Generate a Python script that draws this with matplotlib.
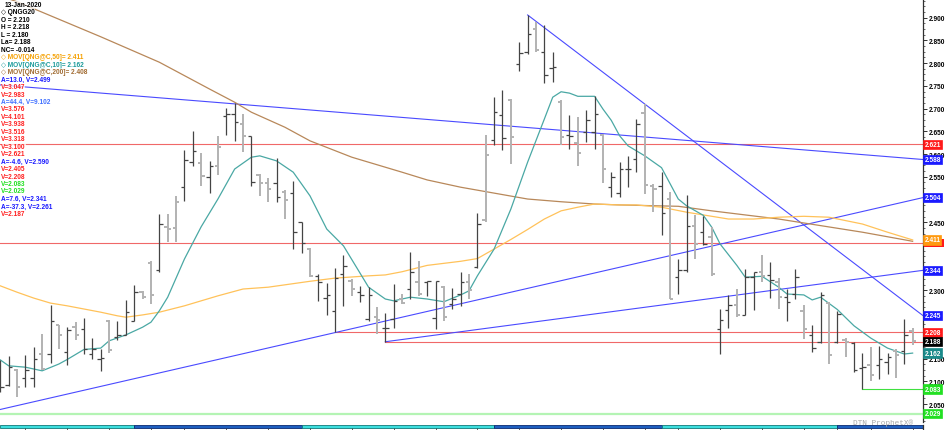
import matplotlib
matplotlib.use('Agg')
import matplotlib.pyplot as plt
import matplotlib.transforms as mtransforms
from matplotlib.ticker import MultipleLocator, FixedLocator
from matplotlib.patches import Rectangle
import numpy as np

# ---------------- data ----------------
opens = [2.135, 2.092, 2.124, 2.107, 2.107, 2.159, 2.160, 2.223, 2.164, 2.219,
         2.215, 2.160, 2.150, 2.233, 2.197, 2.202, 2.233, 2.297, 2.360, 2.345,
         2.440, 2.437, 2.527, 2.582, 2.580, 2.549, 2.574, 2.683, 2.688, 2.666,
         2.640, 2.553, 2.537, 2.536, 2.516, 2.514, 2.450, 2.391, 2.331, 2.283,
         2.255, 2.336, 2.321, 2.296, 2.236, 2.241, 2.217, 2.237, 2.281, 2.303,
         2.318, 2.319, 2.239, 2.307, 2.270, 2.292, 2.318, 2.351, 2.454, 2.630,
         2.686, 2.718, 2.798, 2.824, 2.875, 2.824, 2.790, 2.715, 2.641, 2.624,
         2.648, 2.648, 2.642, 2.527, 2.514, 2.566, 2.588, 2.690, 2.530, 2.529,
         2.501, 2.329, 2.344, 2.442, 2.428, 2.417, 2.215, 2.256, 2.267, 2.246,
         2.329, 2.341, 2.333, 2.318, 2.285, 2.292, 2.255, 2.202, 2.186, 2.272,
         2.187, 2.190, 2.184, 2.129, 2.135, 2.135, 2.143, 2.167, 2.167, 2.210]
highs = [2.146, 2.155, 2.127, 2.157, 2.175, 2.203, 2.268, 2.224, 2.220, 2.231,
         2.239, 2.195, 2.171, 2.235, 2.233, 2.278, 2.311, 2.299, 2.365, 2.468,
         2.468, 2.507, 2.609, 2.650, 2.602, 2.585, 2.640, 2.701, 2.712, 2.688,
         2.640, 2.556, 2.547, 2.591, 2.521, 2.541, 2.451, 2.393, 2.336, 2.316,
         2.349, 2.378, 2.325, 2.310, 2.307, 2.263, 2.250, 2.314, 2.292, 2.384,
         2.365, 2.321, 2.321, 2.310, 2.305, 2.341, 2.336, 2.470, 2.642, 2.725,
         2.740, 2.720, 2.846, 2.906, 2.891, 2.884, 2.824, 2.718, 2.685, 2.681,
         2.696, 2.727, 2.644, 2.561, 2.582, 2.596, 2.677, 2.710, 2.534, 2.560,
         2.516, 2.369, 2.510, 2.465, 2.463, 2.439, 2.259, 2.290, 2.303, 2.347,
         2.341, 2.378, 2.362, 2.327, 2.303, 2.346, 2.268, 2.224, 2.296, 2.274,
         2.255, 2.195, 2.186, 2.162, 2.175, 2.177, 2.162, 2.171, 2.236, 2.218]
lows = [2.076, 2.089, 2.065, 2.087, 2.087, 2.125, 2.140, 2.171, 2.135, 2.190,
        2.160, 2.149, 2.122, 2.162, 2.190, 2.201, 2.233, 2.281, 2.270, 2.341,
        2.406, 2.406, 2.497, 2.573, 2.530, 2.514, 2.554, 2.642, 2.629, 2.604,
        2.530, 2.507, 2.495, 2.495, 2.457, 2.391, 2.382, 2.329, 2.277, 2.246,
        2.208, 2.265, 2.288, 2.274, 2.233, 2.204, 2.187, 2.217, 2.270, 2.281,
        2.288, 2.288, 2.216, 2.233, 2.259, 2.266, 2.281, 2.349, 2.451, 2.619,
        2.608, 2.578, 2.783, 2.820, 2.824, 2.756, 2.758, 2.620, 2.610, 2.573,
        2.627, 2.610, 2.536, 2.505, 2.505, 2.527, 2.560, 2.512, 2.472, 2.422,
        2.280, 2.292, 2.341, 2.369, 2.399, 2.331, 2.160, 2.217, 2.241, 2.245,
        2.256, 2.318, 2.283, 2.259, 2.233, 2.280, 2.193, 2.164, 2.184, 2.138,
        2.184, 2.153, 2.120, 2.083, 2.101, 2.104, 2.116, 2.107, 2.138, 2.180]
closes = [2.087, 2.131, 2.088, 2.124, 2.149, 2.127, 2.232, 2.201, 2.212, 2.201,
          2.170, 2.171, 2.152, 2.168, 2.201, 2.253, 2.297, 2.285, 2.290, 2.446,
          2.435, 2.495, 2.587, 2.607, 2.552, 2.574, 2.615, 2.687, 2.670, 2.639,
          2.538, 2.537, 2.523, 2.505, 2.499, 2.429, 2.404, 2.332, 2.319, 2.289,
          2.327, 2.353, 2.302, 2.290, 2.289, 2.234, 2.217, 2.277, 2.272, 2.341,
          2.292, 2.320, 2.321, 2.241, 2.281, 2.318, 2.300, 2.446, 2.598, 2.692,
          2.635, 2.637, 2.822, 2.864, 2.828, 2.774, 2.791, 2.638, 2.640, 2.602,
          2.674, 2.688, 2.567, 2.549, 2.567, 2.567, 2.666, 2.532, 2.523, 2.470,
          2.281, 2.344, 2.442, 2.402, 2.402, 2.336, 2.234, 2.267, 2.245, 2.329,
          2.340, 2.331, 2.322, 2.285, 2.274, 2.329, 2.215, 2.173, 2.290, 2.158,
          2.248, 2.187, 2.124, 2.131, 2.113, 2.149, 2.153, 2.158, 2.202, 2.188]
# 1 = dark bar, 0 = light bar
tone = [1, 1, 0, 1, 1, 0, 1, 0, 1, 0, 1, 1, 1, 0, 1, 1, 1, 0, 0, 1,
        0, 0, 1, 1, 0, 1, 0, 1, 1, 0, 1, 0, 0, 1, 0, 1, 1, 0, 1, 1,
        1, 1, 0, 1, 1, 0, 1, 1, 0, 1, 0, 1, 1, 0, 1, 1, 0, 1, 0, 1,
        1, 0, 1, 1, 0, 1, 1, 0, 1, 0, 1, 1, 0, 1, 1, 1, 1, 0, 0, 1,
        0, 1, 1, 0, 1, 0, 1, 1, 0, 1, 1, 0, 1, 0, 1, 1, 0, 1, 1, 0,
        1, 0, 1, 1, 0, 1, 1, 0, 1, 0]

ma10_idx = [0, 1, 3, 5, 7, 8, 10, 12, 13, 15, 17, 18, 19, 20, 22, 24, 26, 28, 30, 31,
            33, 35, 37, 39, 41, 44, 46, 47, 49, 51, 53, 55, 56, 57, 59, 61, 63, 65, 66, 67,
            68, 69, 71, 72, 73, 74, 75, 77, 79, 81, 82, 84, 85, 86, 88, 89, 91, 93, 94, 96,
            97, 98, 100, 102, 104, 106, 108, 109]
ma10_val = [2.147, 2.134, 2.131, 2.123, 2.138, 2.148, 2.170, 2.173, 2.189, 2.202,
            2.219, 2.230, 2.255, 2.285, 2.369, 2.440, 2.501, 2.567, 2.593, 2.596,
            2.585, 2.560, 2.508, 2.435, 2.398, 2.307, 2.281, 2.277, 2.285, 2.281,
            2.275, 2.290, 2.299, 2.332, 2.391, 2.479, 2.582, 2.677, 2.725, 2.737,
            2.734, 2.727, 2.727, 2.699, 2.674, 2.640, 2.618, 2.596, 2.570, 2.501,
            2.486, 2.465, 2.439, 2.402, 2.355, 2.329, 2.331, 2.307, 2.292, 2.290,
            2.279, 2.285, 2.258, 2.222, 2.195, 2.173, 2.160, 2.162]

ma50_idx = [0, 2, 4, 6, 8, 10, 12, 14, 15, 17, 19, 22, 26, 29, 32, 37, 40, 44, 46, 48,
            51, 55, 57, 59, 61, 63, 65, 67, 69, 71, 74, 76, 79, 82, 84, 87, 90, 93, 96, 99,
            103, 106, 109]
ma50_val = [2.310, 2.296, 2.283, 2.272, 2.266, 2.259, 2.252, 2.244, 2.241, 2.246,
            2.252, 2.266, 2.288, 2.303, 2.307, 2.320, 2.327, 2.332, 2.334, 2.341,
            2.355, 2.364, 2.370, 2.391, 2.412, 2.434, 2.457, 2.475, 2.483, 2.490,
            2.488, 2.488, 2.483, 2.472, 2.466, 2.457, 2.457, 2.461, 2.463, 2.461,
            2.446, 2.428, 2.411]

ma200_idx = [0, 2, 5, 12, 19, 25, 28, 30, 34, 37, 42, 48, 51, 55, 59, 63, 67, 71, 74, 81,
             85, 89, 93, 103, 109]
ma200_val = [2.948, 2.935, 2.912, 2.858, 2.802, 2.743, 2.714, 2.692, 2.659, 2.629,
             2.593, 2.560, 2.543, 2.527, 2.514, 2.501, 2.495, 2.490, 2.488, 2.485,
             2.475, 2.466, 2.457, 2.428, 2.408]

# trend lines: start bar, start value, value at right edge
trend_start_idx = [0, 63, 0, 46]
trend_start_val = [2.038, 2.906, 2.752, 2.187]
trend_end_val = [2.504, 2.245, 2.588, 2.344]

# horizontal lines
hline_val = [2.621, 2.405, 2.208, 2.187, 2.083, 2.029]
hline_start = [0, 0, 40, 46, 103, 0]
hline_kind = ['red', 'red', 'red', 'red', 'green', 'pale']

legend_text = ['13-Jan-2020', '\u25c7 QNGG20', 'O = 2.210', 'H = 2.218', 'L = 2.180',
               'La= 2.188', 'NC= -0.014', '\u25c7 MOV[QNG@C,50]= 2.411',
               '\u25c7 MOV[QNG@C,10]= 2.162', '\u25c7 MOV[QNG@C,200]= 2.408',
               'A=13.0, V=2.499', 'V=3.047', 'V=2.983', 'A=44.4, V=9.102',
               'V=3.576', 'V=4.101', 'V=3.938', 'V=3.516', 'V=3.318', 'V=3.100',
               'V=2.621', 'A=-4.6, V=2.590', 'V=2.405', 'V=2.208', 'V=2.083',
               'V=2.029', 'A=7.6, V=2.341', 'A=-37.3, V=2.261', 'V=2.187']
legend_kind = ['black', 'black', 'black', 'black', 'black', 'black', 'black', 'orange',
               'teal', 'brown', 'blue', 'red', 'red', 'lblue', 'red', 'red', 'red', 'red',
               'red', 'red', 'red', 'blue', 'red', 'red', 'green', 'green', 'blue', 'blue',
               'red']

# price tags on the right axis (the 2.405 tag is hidden under the 2.411 one)
tag_val = [2.621, 2.588, 2.504, 2.411, 2.344, 2.245, 2.208, 2.188, 2.162, 2.083, 2.029]
tag_kind = ['red', 'blue', 'blue', 'orange', 'blue', 'blue', 'red', 'black', 'teal',
            'green', 'green']
hidden_tag_val = 2.405

band_edges = [16, 36, 59, 79, 100]
week_ticks = [3, 8, 13, 18, 22, 27, 32, 37, 42, 47, 52, 57, 62, 67, 72, 77, 81, 86, 91,
              96, 100, 104, 109]

# ---------------- styling ----------------
FONT = ['Liberation Sans', 'DejaVu Sans']
plt.rcParams['font.family'] = FONT
text_col = {'black': '#000000', 'orange': '#f5a000', 'teal': '#1a9a9a', 'brown': '#a06a30',
            'blue': '#1818ff', 'lblue': '#4070ff', 'red': '#ff2020', 'green': '#20e020'}
tag_col = {'red': '#ff1a1a', 'blue': '#1a1aff', 'orange': '#ff9a10', 'black': '#000000',
           'teal': '#1a8a8a', 'green': '#22e022'}
hl_col = {'red': '#f06868', 'green': '#40e040', 'pale': '#b4f4b4'}
hl_lw = {'red': 0.8, 'green': 0.8, 'pale': 1.6}

W, H = 950, 431
fig = plt.figure(figsize=(W / 100, H / 100), dpi=100)
fig.patch.set_facecolor('white')

AX_W = 922.7
XL = (-0.3 / 8.37, (AX_W - 0.3) / 8.37)
ax = fig.add_axes([0, 8 / H, AX_W / W, 423 / H])
ax.set_xlim(*XL)
ax.set_ylim(2.0104, 2.9411)
ax.set_facecolor('white')
for s in ['top', 'left', 'bottom']:
    ax.spines[s].set_visible(False)
ax.spines['right'].set_color('#303030')
ax.spines['right'].set_linewidth(0.9)
ax.set_xticks([])
ax.yaxis.tick_right()

# major ticks every 0.05; labels hidden where a price tag sits on top of them
all_tags = tag_val + [hidden_tag_val]
major = np.round(np.arange(2.05, 2.901, 0.05), 3)
ax.yaxis.set_major_locator(FixedLocator(major))
ax.yaxis.set_minor_locator(MultipleLocator(0.0125))
ax.set_yticklabels(['' if min(abs(m - tv) for tv in all_tags) < 0.009 else '%.3f' % m
                    for m in major])
ax.tick_params(axis='y', which='major', direction='out', length=3, width=0.7,
               color='#303030', pad=1.5, labelsize=4.7, labelcolor='black')
ax.tick_params(axis='y', which='minor', direction='out', length=1.5, width=0.5,
               color='#303030')
for lb in ax.get_yticklabels():
    lb.set_fontweight('bold')

# horizontal lines
for v, st, k in zip(hline_val, hline_start, hline_kind):
    ax.plot([st, XL[1]], [v, v], color=hl_col[k], lw=hl_lw[k], zorder=1)

# trend lines
for si, sv, ev in zip(trend_start_idx, trend_start_val, trend_end_val):
    ax.plot([si, XL[1]], [sv, ev], color='#4a4aff', lw=0.8, zorder=1.5)

# moving averages
ax.plot(ma200_idx, ma200_val, color='#b8885a', lw=0.9, zorder=2)
ax.plot(ma50_idx, ma50_val, color='#ffc25a', lw=0.9, zorder=2)
ax.plot(ma10_idx, ma10_val, color='#4aa8a4', lw=0.9, zorder=2)

# OHLC bars
idx = np.arange(len(opens))
o = np.array(opens); h = np.array(highs); l = np.array(lows); c = np.array(closes)
t = np.array(tone)
for flag, col, lw in [(0, '#b2b2b2', 1.4), (1, '#444444', 0.9)]:
    m = t == flag
    ax.vlines(idx[m], l[m], h[m], color=col, lw=lw, zorder=3)
    ax.hlines(o[m], idx[m] - 0.4, idx[m], color=col, lw=lw, zorder=3)
    ax.hlines(c[m], idx[m], idx[m] + 0.4, color=col, lw=lw, zorder=3)

# right-hand tags
trans = mtransforms.blended_transform_factory(ax.transAxes, ax.transData)
# hidden red tag: only a sliver shows below the orange tag
ax.add_patch(Rectangle((1 + 1.0 / AX_W, hidden_tag_val - 0.0085), 20.5 / AX_W, 0.017,
                       transform=trans, fc=tag_col['red'], ec='none', clip_on=False,
                       zorder=9))
for v, k in zip(tag_val, tag_kind):
    ax.text(1 + 1.6 / AX_W, v, '%.3f' % v, transform=trans, ha='left', va='center',
            fontsize=4.7, fontweight='bold', color='white', clip_on=False, zorder=10,
            bbox=dict(boxstyle='square,pad=0.18', fc=tag_col[k], ec=tag_col[k], lw=0.5))

# legend text
for k, (s, kind) in enumerate(zip(legend_text, legend_kind)):
    y = 5.5 + 7.46 * k
    x = 5 if k == 0 else 1
    fig.text(x / W, 1 - y / H, s, ha='left', va='center', fontsize=4.7,
             fontweight='bold', color=text_col[kind], family=FONT,
             bbox=dict(boxstyle='square,pad=0', fc='white', ec='none', alpha=0.7),
             zorder=20)

# watermark
fig.text(853 / W, 1 - 423 / H, 'DTN ProphetX\u00ae', ha='left', va='center',
         fontsize=5.6, color='#a8a8a8', family=['Liberation Mono', 'DejaVu Sans Mono'])

# bottom time band
axb = fig.add_axes([0, 0, AX_W / W, 5.5 / H])
axb.set_xlim(*XL)
axb.set_ylim(0, 1)
axb.axis('off')
edges = [XL[0]] + band_edges + [XL[1]]
for j in range(len(edges) - 1):
    fc, ec = ('#3cdede', '#127a7a') if j % 2 == 0 else ('#1e5fc0', '#0a2a70')
    axb.add_patch(Rectangle((edges[j], 0.42), edges[j + 1] - edges[j], 0.5,
                            fc=fc, ec=ec, lw=0.6))
axb.vlines(week_ticks, 0, 0.42, color='#404040', lw=0.6)
axb.plot([XL[1], XL[1]], [0, 1], color='#303030', lw=0.9, clip_on=False)

fig.savefig('out.png', dpi=100, facecolor='white')
